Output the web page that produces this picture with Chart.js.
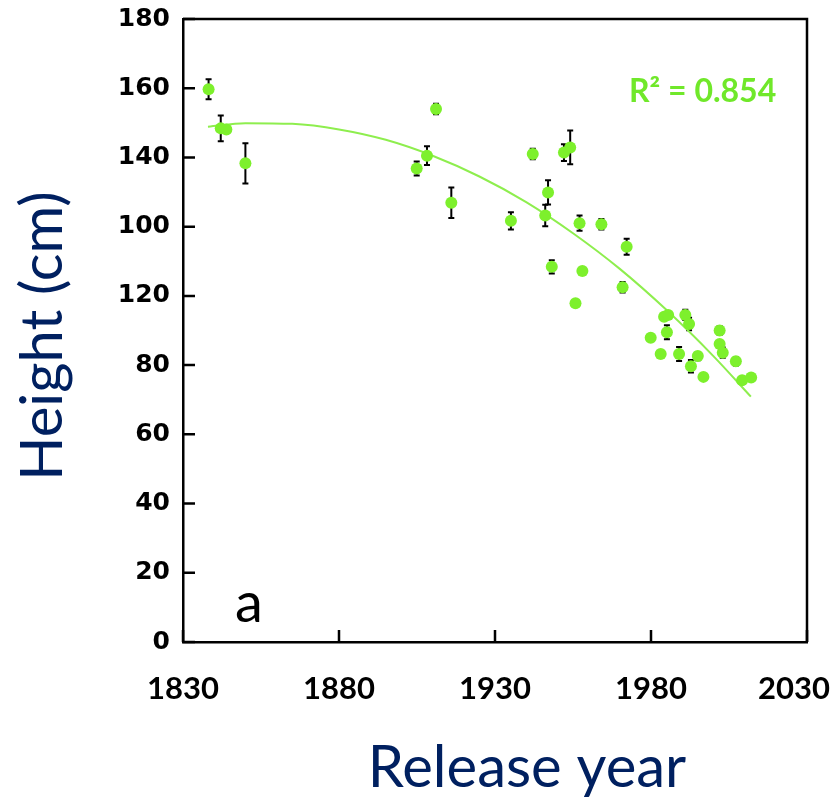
<!DOCTYPE html>
<html>
<head>
<meta charset="utf-8">
<script src="https://cdn.jsdelivr.net/npm/chart.js@4"></script>
<style>
  html, body { margin: 0; padding: 0; background: #fff; }
  canvas { display: block; }
</style>
</head>
<body>
<canvas id="chart" width="836" height="797"></canvas>
<script>
// Height vs release year, panel a

// Cultivars: release year, height (cm), error (0 = no bar visible)
const years = [
  1838.2, 1842.1, 1843.9, 1850.0, 1904.9, 1908.2, 1911.1, 1916.0,
  1935.1, 1942.1, 1946.1, 1947.0, 1948.2, 1952.1, 1954.1, 1955.8,
  1957.1, 1958.0, 1964.1, 1970.9, 1972.2, 1979.9, 1983.1, 1984.2,
  1985.1, 1985.5, 1989.0, 1991.0, 1992.2, 1992.8, 1995.0, 1996.8,
  2002.0, 2002.0, 2003.0, 2007.2, 2009.2, 2012.1,
];
const heights = [
  159.7, 148.4, 148.1, 138.3, 136.8, 140.5, 154.0, 126.9,
  121.7, 141.0, 123.2, 129.9, 108.4, 141.4, 142.9, 97.9,
  121.0, 107.2, 120.7, 102.5, 114.2, 87.9, 83.2, 94.0,
  89.5, 94.5, 83.2, 94.5, 91.9, 79.7, 82.6, 76.6,
  90.0, 86.1, 83.6, 81.1, 75.6, 76.4,
];
const errors = [
  2.9, 3.7, 0, 5.8, 2.0, 2.7, 1.5, 4.4,
  2.5, 1.5, 3.1, 3.5, 1.9, 2.4, 4.9, 0,
  2.2, 0, 1.5, 1.5, 2.3, 0, 0, 0,
  2.0, 0, 2.0, 1.5, 1.8, 1.8, 1.2, 0,
  1.2, 0, 1.5, 1.2, 0, 0,
];

// Fitted curve
const trendYears  = [1838, 1850, 1865, 1880, 1895, 1910, 1925, 1940, 1955, 1970, 1985, 2000, 2012];
const trendHeights = [148.9, 149.9, 149.7, 148.1, 145.1, 140.5, 134.5, 127.1, 118.1, 107.8, 95.9, 82.6, 70.9];

// Tick labels as printed (bottom to top)
const yTickLabels = ['0', '20', '40', '60', '80', '120', '100', '140', '160', '180'];
const xTickValues = [1830, 1880, 1930, 1980, 2030];
const xTickLabels = ['1830', '1880', '1930', '1980', '2030'];

const rSquared = 'R\u00b2 = 0.854';
const panelLabel = 'a';

const GREEN = '#7df02c';
const NAVY = '#002060';

// Error bars, frame, inward ticks and text
const extras = {
  id: 'extras',
  beforeDatasetsDraw(chart) {
    const { ctx, scales: { x, y } } = chart;
    ctx.save();
    ctx.strokeStyle = '#000';
    ctx.lineWidth = 2;
    years.forEach((yr, i) => {
      if (!errors[i]) return;
      const px = x.getPixelForValue(yr);
      const top = y.getPixelForValue(heights[i] + errors[i]);
      const bot = y.getPixelForValue(heights[i] - errors[i]);
      ctx.beginPath();
      ctx.moveTo(px, top); ctx.lineTo(px, bot);
      ctx.moveTo(px - 3, top); ctx.lineTo(px + 3, top);
      ctx.moveTo(px - 3, bot); ctx.lineTo(px + 3, bot);
      ctx.stroke();
    });
    ctx.restore();
  },
  afterDraw(chart) {
    const { ctx, chartArea: a, scales: { x, y } } = chart;
    ctx.save();
    ctx.strokeStyle = '#000';
    ctx.lineWidth = 2.5;

    // top and right edges of the box
    ctx.beginPath();
    ctx.moveTo(a.left, a.top); ctx.lineTo(a.right, a.top); ctx.lineTo(a.right, a.bottom);
    ctx.stroke();

    // ticks pointing into the plot
    ctx.beginPath();
    y.ticks.forEach((t) => {
      const py = y.getPixelForValue(t.value);
      ctx.moveTo(a.left, py); ctx.lineTo(a.left + 12, py);
    });
    xTickValues.forEach((v) => {
      const px = x.getPixelForValue(v);
      ctx.moveTo(px, a.bottom); ctx.lineTo(px, a.bottom - 12);
    });
    ctx.stroke();

    // x tick labels
    ctx.fillStyle = '#000';
    ctx.font = 'bold 31px Lato';
    ctx.textBaseline = 'alphabetic';
    ctx.textAlign = 'left';
    xTickValues.forEach((v, i) => {
      const px = x.getPixelForValue(v);
      const w = ctx.measureText(xTickLabels[i]).width;
      let left = px - w / 2;
      if (left + w > chart.width - 6) left = chart.width - 6 - w;
      ctx.fillText(xTickLabels[i], left, a.bottom + 57);
    });

    // axis titles
    ctx.fillStyle = NAVY;
    ctx.font = '58px Lato';
    ctx.textAlign = 'center';
    ctx.fillText('Release year', 527, 787);
    ctx.save();
    ctx.translate(62, 336);
    ctx.rotate(-Math.PI / 2);
    ctx.fillText('Height (cm)', 0, 0);
    ctx.restore();

    // panel letter and fit statistic
    ctx.fillStyle = '#000';
    ctx.font = '56px Lato';
    ctx.textAlign = 'left';
    ctx.fillText(panelLabel, 235, 622);

    ctx.fillStyle = '#70e82a';
    ctx.font = 'bold 32px Lato';
    ctx.fillText(rSquared, 629, 102);
    ctx.restore();
  },
};

new Chart(document.getElementById('chart'), {
  type: 'scatter',
  data: {
    datasets: [
      {
        label: 'Cultivars',
        data: years.map((yr, i) => ({ x: yr, y: heights[i] })),
        backgroundColor: GREEN,
        borderWidth: 0,
        pointRadius: 6,
        order: 0,
      },
      {
        type: 'line',
        label: 'Fit',
        data: trendYears.map((yr, i) => ({ x: yr, y: trendHeights[i] })),
        borderColor: '#8eee4e',
        borderWidth: 2,
        pointRadius: 0,
        fill: false,
        cubicInterpolationMode: 'monotone',
        order: 1,
      },
    ],
  },
  options: {
    responsive: false,
    animation: false,
    layout: { padding: { top: 19, right: 29, left: 0, bottom: 0 } },
    plugins: { legend: { display: false }, tooltip: { enabled: false } },
    scales: {
      x: {
        type: 'linear',
        min: 1830,
        max: 2030,
        ticks: { display: false, stepSize: 50 },
        grid: { drawOnChartArea: false, drawTicks: false },
        border: { color: '#000', width: 2.5 },
        afterFit: (s) => { s.height = 155; s.paddingLeft = 0; s.paddingRight = 0; },
      },
      y: {
        min: 0,
        max: 180,
        ticks: {
          stepSize: 20,
          padding: 13,
          color: '#000',
          font: { family: 'DejaVu Sans', weight: 'bold', size: 25 },
          callback: (v) => yTickLabels[Math.round(v / 20)],
        },
        grid: { drawOnChartArea: false, drawTicks: false },
        border: { color: '#000', width: 2.5 },
        afterFit: (s) => { s.width = 183; s.paddingTop = 0; s.paddingBottom = 0; },
      },
    },
  },
  plugins: [extras],
});
</script>
</body>
</html>
